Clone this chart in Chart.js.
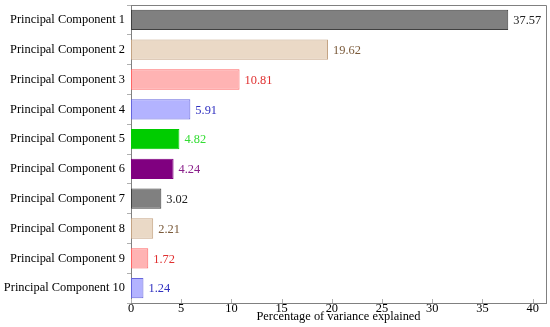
<!DOCTYPE html>
<html>
<head>
<meta charset="utf-8">
<script src="https://cdn.jsdelivr.net/npm/chart.js@4"></script>
<style>
  html, body { margin: 0; padding: 0; background: #fff; }
  #wrap { width: 550px; height: 327px; }
</style>
</head>
<body>
<div id="wrap"><canvas id="pcaChart"></canvas></div>
<script>
// data
const components = ['Principal Component 1', 'Principal Component 2', 'Principal Component 3',
    'Principal Component 4', 'Principal Component 5', 'Principal Component 6',
    'Principal Component 7', 'Principal Component 8', 'Principal Component 9',
    'Principal Component 10'];
const varianceExplained = [37.57, 19.62, 10.81, 5.91, 4.82, 4.24, 3.02, 2.21, 1.72, 1.24];
const xTicks = [0, 5, 10, 15, 20, 25, 30, 35, 40];
const xTitle = 'Percentage of variance explained';

const fills   = ['#808080', '#ead9c6', '#ffb3b3', '#b3b3ff', '#00cc00', '#800080', '#808080', '#ead9c6', '#ffb3b3', '#b3b3ff'];
const borders = ['#404040', '#c4a484', '#ff6666', '#6666dd', '#00cc00', '#800080', '#404040', '#c4a484', '#ff6666', '#6666dd'];
const labelColors = ['#202020', '#7a5a3a', '#e03030', '#3030c0', '#33dd33', '#8a208a', '#202020', '#7a5a3a', '#e03030', '#3030c0'];

const serif = '"Liberation Serif", "DejaVu Serif", serif';
const fontSize = 12.4;
const axisGray = '#808080';

// frame, inward x ticks and the value labels
const extras = {
    id: 'extras',
    afterDatasetsDraw(chart) {
        const ctx = chart.ctx;
        const area = chart.chartArea;
        const xs = chart.scales.x;
        ctx.save();
        ctx.strokeStyle = axisGray;
        ctx.lineWidth = 1;
        ctx.beginPath();
        ctx.moveTo(area.left, area.top + 0.5);
        ctx.lineTo(area.right + 0.5, area.top + 0.5);
        ctx.lineTo(area.right + 0.5, area.bottom);
        ctx.stroke();

        ctx.strokeStyle = '#b0b0b0';
        xTicks.forEach(t => {
            const px = Math.round(xs.getPixelForValue(t)) + 0.5;
            ctx.beginPath();
            ctx.moveTo(px, area.bottom);
            ctx.lineTo(px, area.bottom - 4);
            ctx.stroke();
        });

        ctx.font = fontSize + 'px ' + serif;
        ctx.textBaseline = 'middle';
        ctx.textAlign = 'left';
        const meta = chart.getDatasetMeta(0);
        varianceExplained.forEach((v, i) => {
            const bar = meta.data[i];
            ctx.fillStyle = labelColors[i];
            ctx.fillText(v.toFixed(2), xs.getPixelForValue(v) + 5, bar.y + 1);
        });
        ctx.restore();
    }
};

new Chart(document.getElementById('pcaChart'), {
    type: 'bar',
    data: {
        labels: components,
        datasets: [{
            data: varianceExplained,
            backgroundColor: fills,
            borderColor: borders,
            borderWidth: 1,
            borderSkipped: false,
            barPercentage: 0.68,
            categoryPercentage: 1
        }]
    },
    options: {
        indexAxis: 'y',
        responsive: true,
        maintainAspectRatio: false,
        animation: false,
        layout: { padding: { top: 5, right: 4, left: 0, bottom: 0 } },
        plugins: {
            legend: { display: false },
            tooltip: { enabled: false }
        },
        scales: {
            x: {
                min: 0,
                max: 41.33,
                afterBuildTicks: scale => { scale.ticks = xTicks.map(v => ({ value: v })); },
                grid: { display: false, drawTicks: false, tickLength: 0 },
                border: { display: true, color: axisGray },
                ticks: {
                    color: '#000',
                    font: { family: serif, size: fontSize },
                    padding: -2,
                    maxRotation: 0
                },
                title: {
                    display: true,
                    text: xTitle,
                    color: '#000',
                    font: { family: serif, size: fontSize },
                    padding: { top: -4, bottom: 3 }
                },
                afterFit: scale => {
                    scale.height = 24;
                    scale.paddingLeft = 0;
                    scale.paddingRight = 0;
                }
            },
            y: {
                grid: { drawOnChartArea: false, drawTicks: true, tickLength: 4, color: '#b0b0b0' },
                border: { display: true, color: axisGray },
                ticks: {
                    color: '#000',
                    font: { family: serif, size: fontSize },
                    padding: 2
                },
                afterFit: scale => {
                    scale.width = 131;
                    scale.paddingTop = 0;
                    scale.paddingBottom = 0;
                }
            }
        }
    },
    plugins: [extras]
});
</script>
</body>
</html>
